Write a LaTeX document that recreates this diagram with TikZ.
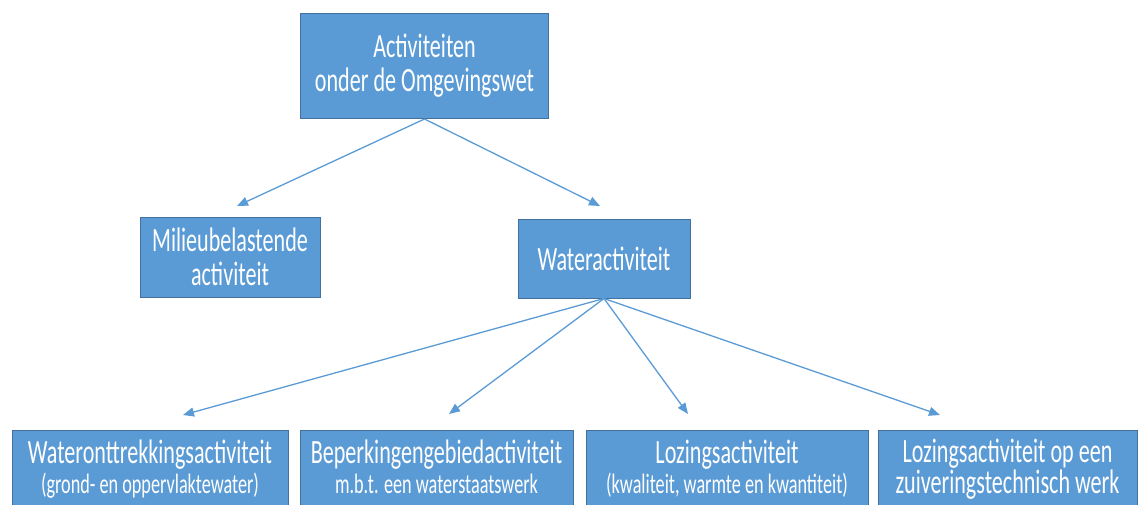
\documentclass[tikz,border=0pt]{standalone}
\usepackage{fontspec}
\setmainfont{Carlito}[FakeStretch=0.65]
\usetikzlibrary{arrows.meta}
\definecolor{boxfill}{HTML}{5B9BD5}
\definecolor{boxline}{HTML}{41719C}
\definecolor{arrowc}{HTML}{5B9BD5}
\begin{document}
\begin{tikzpicture}[x=1pt,y=-1pt,
  box/.style={draw=boxline,line width=1pt,fill=boxfill,text=white,align=center,inner sep=0pt,
    font=\fontsize{34}{34}\selectfont},
  bbox/.style={draw=boxline,line width=1pt,fill=boxfill,inner sep=0pt,minimum height=90pt},
  bigt/.style={text=white,inner sep=0pt,anchor=base,font=\fontsize{34}{34}\selectfont},
  smallt/.style={text=white,inner sep=0pt,anchor=base,font=\fontsize{28}{28}\selectfont},
  conn/.style={draw=arrowc,line width=1.3pt,-{Triangle[length=11pt,width=9pt]}}]
\useasboundingbox (0,0) rectangle (1138,504);
\clip (0,0) rectangle (1138,504);
\node[box,minimum width=248pt,minimum height=105pt] (top) at (424.5,66) {Activiteiten\\onder de Omgevingswet};
\node[box,minimum width=180pt,minimum height=80pt] (mil) at (230,257) {Milieubelastende\\activiteit};
\node[box,minimum width=172pt,minimum height=79pt] (wat) at (604,258.5) {Wateractiviteit};
\node[bbox,minimum width=276pt] (b1) at (150,475) {};
\node[bbox,minimum width=273pt] (b2) at (436.5,475) {};
\node[bbox,minimum width=282pt] (b3) at (727,475) {};
\node[bbox,minimum width=259pt] (b4) at (1007.5,475) {};
\node[bigt] (b1a) at (150,463) {Wateronttrekkingsactiviteit};
\node[smallt] (b1b) at (150,493) {(grond- en oppervlaktewater)};
\node[bigt] (b2a) at (436.5,463) {Beperkingengebiedactiviteit};
\node[smallt] (b2b) at (436.5,493) {m.b.t. een waterstaatswerk};
\node[bigt] (b3a) at (727,463) {Lozingsactiviteit};
\node[smallt] (b3b) at (727,493) {(kwaliteit, warmte en kwantiteit)};
\node[bigt] (b4a) at (1007.5,462) {Lozingsactiviteit op een};
\node[bigt] (b4b) at (1007.5,493) {zuiveringstechnisch werk};
\coordinate (tmil) at (237,206);
\coordinate (twat) at (600,206);
\coordinate (t1) at (183,415);
\coordinate (t2) at (449,414);
\coordinate (t3) at (688,414);
\coordinate (t4) at (940,415);
\draw[conn] (top.south) -- (tmil);
\draw[conn] (top.south) -- (twat);
\draw[conn] (wat.south) -- (t1);
\draw[conn] (wat.south) -- (t2);
\draw[conn] (wat.south) -- (t3);
\draw[conn] (wat.south) -- (t4);
\end{tikzpicture}
\end{document}
